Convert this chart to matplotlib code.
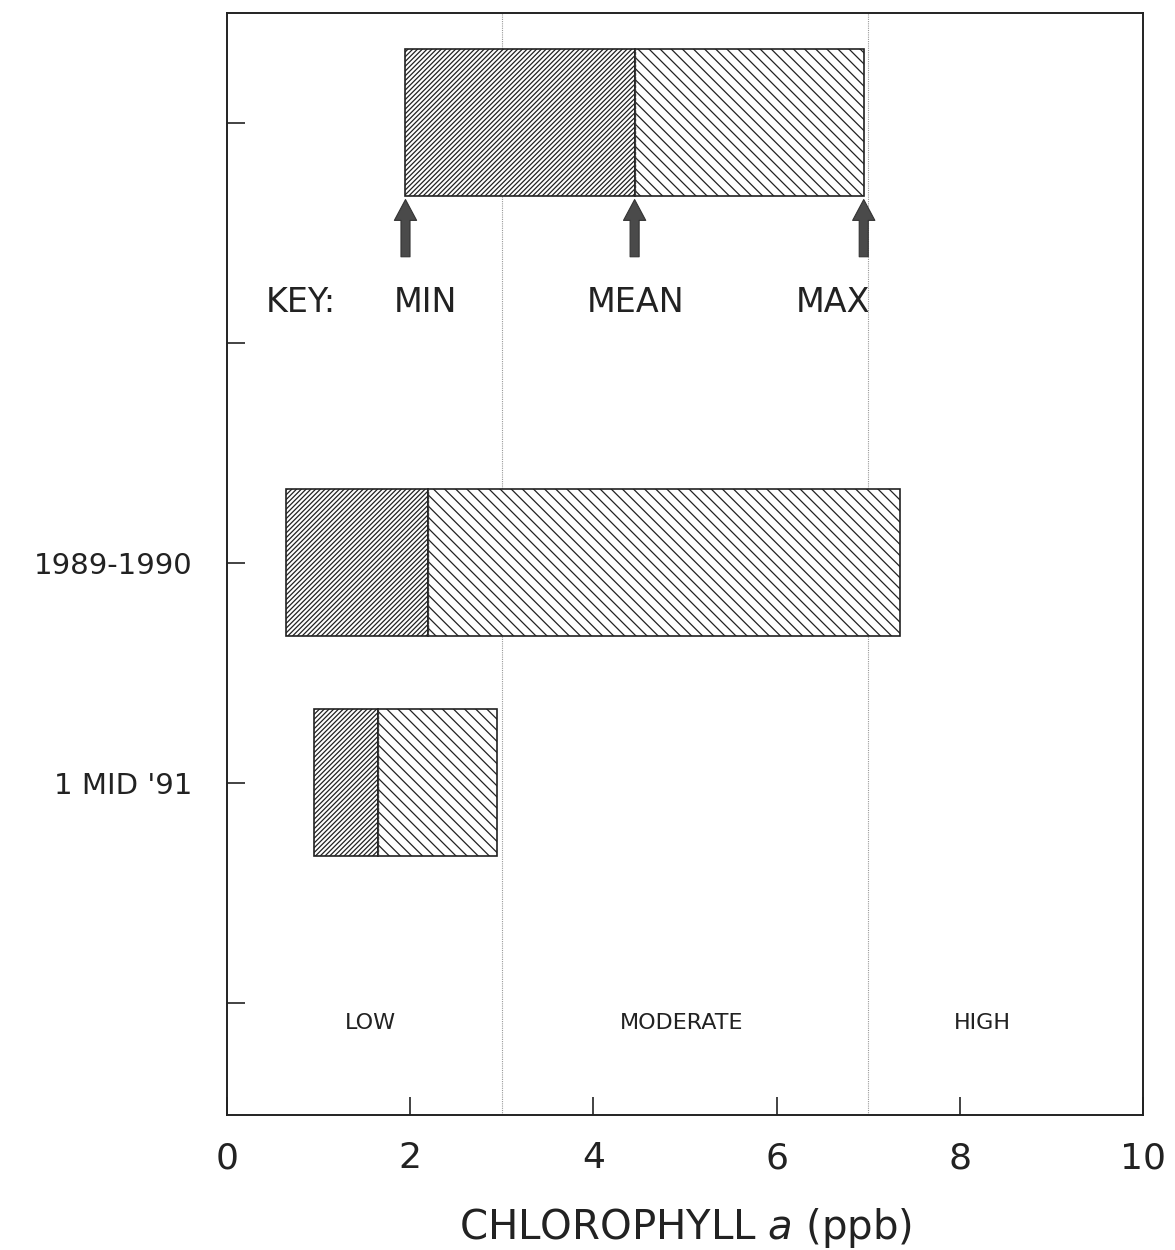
import matplotlib
matplotlib.use("Agg")
import matplotlib.pyplot as plt

plt.rcParams['font.family'] = ['DejaVu Sans']
plt.rcParams['mathtext.fontset'] = 'dejavusans'
plt.rcParams['hatch.linewidth'] = 0.9

# Data
categories = ["1 MID '91", "1989-1990"]
cat_pos = [1.5, 2.5]
mins = [0.95, 0.65]
means = [1.65, 2.2]
maxs = [2.95, 7.35]

key_pos = 4.5
key_min, key_mean, key_max = 1.95, 4.45, 6.95
key_labels = ["MIN", "MEAN", "MAX"]

class_bounds = [3, 7]
class_labels = ["LOW", "MODERATE", "HIGH"]

xticks = [0, 2, 4, 6, 8, 10]
yticks = [0.5, 1.5, 2.5, 3.5, 4.5]

bar_h = 0.67
ink = '#222222'

fig = plt.figure(figsize=(11.75, 12.5), dpi=100)
ax = fig.add_axes([0.193, 0.108, 0.78, 0.882])
ax.set_xlim(0, 10)
ax.set_ylim(-0.01, 5.0)

for b in class_bounds:
    ax.axvline(b, color='#999999', lw=0.8, ls=(0, (1, 1)), zorder=1)

def draw_bar(y, lo, mid, hi):
    ax.barh(y, mid - lo, left=lo, height=bar_h, facecolor='white',
            edgecolor=ink, hatch='///////', lw=1.2, zorder=2)
    ax.barh(y, hi - mid, left=mid, height=bar_h, facecolor='white',
            edgecolor=ink, hatch='\\\\\\', lw=1.2, zorder=2)
    ax.plot([mid, mid], [y - bar_h / 2, y + bar_h / 2], color='#333333',
            lw=1.0, ls=(0, (2, 1)), zorder=3)

for y, lo, mid, hi in zip(cat_pos, mins, means, maxs):
    draw_bar(y, lo, mid, hi)

draw_bar(key_pos, key_min, key_mean, key_max)

for xv in [key_min, key_mean, key_max]:
    ax.annotate('', xy=(xv, key_pos - bar_h / 2 - 0.015), xytext=(xv, 3.89),
                arrowprops=dict(arrowstyle='simple,head_length=1.5,head_width=1.6,tail_width=0.65',
                                fc='#4a4a4a', ec='#333333', lw=0.8, shrinkA=0, shrinkB=0),
                zorder=4)

key_y = 3.68
ax.text(0.81, key_y, "KEY:", fontsize=24, ha='center', va='center', color=ink)
ax.text(2.17, key_y, key_labels[0], fontsize=24, ha='center', va='center', color=ink)
ax.text(4.46, key_y, key_labels[1], fontsize=24, ha='center', va='center', color=ink)
ax.text(6.62, key_y, key_labels[2], fontsize=24, ha='center', va='center', color=ink)

for lx, lab in zip([1.57, 4.96, 8.24], class_labels):
    ax.text(lx, 0.41, lab, fontsize=16, ha='center', va='center', color=ink)

ax.set_xticks(xticks)
ax.set_xticklabels([str(t) for t in xticks], fontsize=26)
ax.set_yticks(yticks)
ax.set_yticklabels(['', categories[0], categories[1], '', ''], fontsize=21)
ax.tick_params(axis='both', direction='in', length=13, width=1.2, colors=ink)
ax.tick_params(axis='x', pad=19)
ax.tick_params(axis='y', pad=25)

ax.set_xlabel(r"CHLOROPHYLL $\it{a}$ (ppb)", fontsize=29, labelpad=22, color=ink)

for s in ax.spines.values():
    s.set_linewidth(1.4)
    s.set_color(ink)

fig.savefig("out.png", dpi=100, facecolor='white')
